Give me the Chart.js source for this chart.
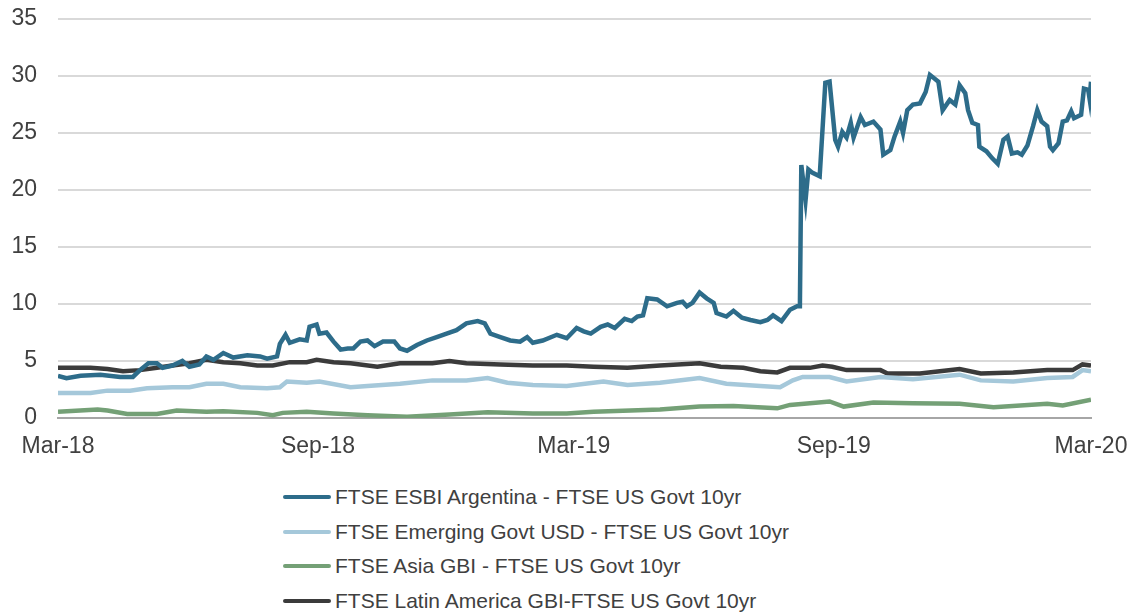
<!DOCTYPE html>
<html>
<head>
<meta charset="utf-8">
<script src="https://cdn.jsdelivr.net/npm/chart.js@4"></script>
<style>
  body { margin: 0; background: #ffffff; font-family: "Liberation Sans", Arial, sans-serif; }
  .chartArea { position: relative; width: 1133px; height: 475px; }
  #legend { position: absolute; left: 283px; top: 480px; }
  .legendRow { display: flex; align-items: center; height: 34.5px; font-size: 21px; color: #404040; white-space: nowrap; }
  .legendLine { width: 48px; height: 4px; border-radius: 2px; margin-right: 4px; }
</style>
</head>
<body>
<div class="chartArea"><canvas id="myChart"></canvas></div>
<div id="legend"></div>
<script>
// Axis ticks (days from 1 Mar 2018) ==>
var tickDays = [0, 184, 365, 549, 731];
var tickLabels = ['Mar-18', 'Sep-18', 'Mar-19', 'Sep-19', 'Mar-20'];

// Series names ==>
var seriesNames = [
    'FTSE ESBI Argentina - FTSE US Govt 10yr',
    'FTSE Emerging Govt USD - FTSE US Govt 10yr',
    'FTSE Asia GBI - FTSE US Govt 10yr',
    'FTSE Latin America GBI-FTSE US Govt 10yr'
];

// Argentina spread ==>
var argDays = [0, 6, 16, 30, 44, 53, 58, 64, 70, 74, 81, 88, 93, 100, 105, 110, 117, 124, 134, 143, 148, 155, 157, 161, 164, 171, 176, 178, 183, 185, 190, 195, 200, 205, 209, 214, 219, 224, 230, 238, 242, 247, 254, 261, 268, 275, 282, 289, 297, 302, 306, 313, 320, 327, 332, 336, 343, 353, 360, 367, 372, 377, 384, 389, 394, 401, 406, 410, 414, 417, 424, 431, 438, 442, 445, 449, 454, 459, 464, 466, 473, 478, 484, 490, 497, 502, 506, 512, 518, 523, 525, 526, 529, 531, 534, 539, 543, 546, 550, 552, 555, 558, 561, 563, 568, 571, 577, 582, 584, 589, 592, 596, 598, 601, 605, 610, 614, 617, 623, 626, 631, 635, 638, 642, 644, 647, 651, 652, 657, 661, 665, 669, 672, 675, 679, 682, 686, 690, 693, 696, 700, 702, 704, 708, 711, 714, 717, 719, 724, 726, 729, 730, 731];
var argValues = [3.7, 3.5, 3.7, 3.8, 3.6, 3.6, 4.2, 4.8, 4.8, 4.4, 4.6, 5.0, 4.5, 4.7, 5.4, 5.1, 5.7, 5.3, 5.5, 5.4, 5.2, 5.4, 6.5, 7.3, 6.6, 6.9, 6.8, 8.0, 8.2, 7.4, 7.5, 6.7, 6.0, 6.1, 6.1, 6.7, 6.8, 6.3, 6.7, 6.7, 6.1, 5.9, 6.4, 6.8, 7.1, 7.4, 7.7, 8.3, 8.5, 8.3, 7.4, 7.1, 6.8, 6.7, 7.1, 6.6, 6.8, 7.3, 7.0, 7.9, 7.6, 7.4, 8.0, 8.2, 7.9, 8.7, 8.5, 8.9, 9.0, 10.5, 10.4, 9.8, 10.1, 10.2, 9.8, 10.1, 11.0, 10.5, 10.1, 9.2, 8.9, 9.4, 8.8, 8.6, 8.4, 8.6, 9.0, 8.5, 9.5, 9.8, 9.8, 22.2, 19.1, 21.8, 21.5, 21.2, 29.4, 29.5, 24.4, 23.8, 25.1, 24.6, 25.9, 24.6, 26.4, 25.7, 26.0, 25.3, 23.1, 23.5, 24.7, 26.0, 25.0, 27.0, 27.5, 27.6, 28.6, 30.1, 29.5, 27.0, 27.9, 27.5, 29.2, 28.5, 27.0, 25.9, 25.7, 23.8, 23.4, 22.8, 22.3, 24.4, 24.7, 23.2, 23.3, 23.1, 23.9, 25.6, 27.0, 26.0, 25.6, 23.8, 23.5, 24.1, 26.0, 26.1, 26.9, 26.3, 26.6, 28.9, 28.8, 28.0, 29.5];

// Emerging Govt USD ==>
var emDays = [0, 23, 35, 51, 63, 81, 93, 105, 117, 129, 148, 157, 162, 176, 185, 207, 219, 242, 265, 289, 304, 318, 336, 360, 386, 403, 426, 454, 473, 497, 511, 520, 527, 546, 558, 582, 605, 638, 653, 676, 700, 718, 725, 731];
var emValues = [2.2, 2.2, 2.4, 2.4, 2.6, 2.7, 2.7, 3.0, 3.0, 2.7, 2.6, 2.7, 3.2, 3.1, 3.2, 2.7, 2.8, 3.0, 3.3, 3.3, 3.5, 3.1, 2.9, 2.8, 3.2, 2.9, 3.1, 3.5, 3.0, 2.8, 2.7, 3.3, 3.6, 3.6, 3.2, 3.6, 3.4, 3.8, 3.3, 3.2, 3.5, 3.6, 4.2, 4.1];

// Asia GBI ==>
var asiaDays = [0, 28, 35, 49, 70, 84, 105, 117, 141, 152, 159, 176, 195, 219, 247, 277, 304, 336, 360, 379, 426, 454, 478, 509, 518, 546, 556, 577, 605, 638, 662, 700, 711, 731];
var asiaValues = [0.55, 0.75, 0.65, 0.35, 0.35, 0.65, 0.55, 0.6, 0.45, 0.25, 0.45, 0.55, 0.4, 0.25, 0.1, 0.3, 0.5, 0.4, 0.4, 0.55, 0.75, 1.0, 1.05, 0.85, 1.15, 1.45, 1.0, 1.35, 1.3, 1.25, 0.95, 1.25, 1.1, 1.6];

// Latin America GBI ==>
var latamDays = [0, 23, 35, 46, 58, 70, 81, 93, 105, 117, 129, 141, 152, 164, 176, 183, 195, 207, 226, 242, 265, 277, 289, 313, 336, 360, 379, 403, 426, 454, 469, 485, 497, 509, 518, 532, 541, 548, 558, 582, 587, 610, 624, 638, 653, 676, 700, 718, 725, 731];
var latamValues = [4.4, 4.4, 4.3, 4.1, 4.2, 4.4, 4.6, 4.8, 5.1, 4.9, 4.8, 4.6, 4.6, 4.9, 4.9, 5.1, 4.9, 4.8, 4.5, 4.8, 4.8, 5.0, 4.8, 4.7, 4.6, 4.6, 4.5, 4.4, 4.6, 4.8, 4.5, 4.4, 4.1, 4.0, 4.4, 4.4, 4.6, 4.5, 4.2, 4.2, 3.9, 3.9, 4.1, 4.3, 3.9, 4.0, 4.2, 4.2, 4.7, 4.6];

var colors = ['#2d6c8a', '#a5c8da', '#74a076', '#3b3b3b'];

// Build {x, y} points ==>
function toPoints(days, values) {
    return days.map((d, i) => ({ x: d, y: values[i] }));
}
var allDays = [argDays, emDays, asiaDays, latamDays];
var allValues = [argValues, emValues, asiaValues, latamValues];

var datasets = seriesNames.map((name, i) => ({
    label: name,
    data: toPoints(allDays[i], allValues[i]),
    borderColor: colors[i],
    backgroundColor: colors[i],
    borderWidth: 4.5,
    pointRadius: 0,
    tension: 0,
    fill: false
}));

// Creat chart ==>
Chart.defaults.font.family = '"Liberation Sans", Arial, sans-serif';
Chart.defaults.font.size = 23;
Chart.defaults.color = '#404040';
const ctx = document.getElementById('myChart');
var chart = new Chart(ctx, {
    type: 'line',
    data: { datasets: datasets },
    options: {
        animation: false,
        responsive: true,
        maintainAspectRatio: false,
        layout: { padding: { top: 19, right: 42, left: 0, bottom: 0 } },
        plugins: {
            legend: { display: false },
            tooltip: { enabled: false }
        },
        scales: {
            x: {
                type: 'linear',
                min: 0,
                max: 731,
                grid: { display: false, drawTicks: false },
                border: { display: true, color: '#a6a6a6', width: 2 },
                afterBuildTicks: (scale) => { scale.ticks = tickDays.map(v => ({ value: v })); },
                afterFit: (scale) => {
                    scale.height = 57;
                    scale.paddingLeft = 0;
                    scale.paddingRight = 0;
                },
                ticks: {
                    padding: 15,
                    maxRotation: 0,
                    autoSkip: false,
                    callback: (value, index) => tickLabels[index]
                }
            },
            y: {
                min: 0,
                max: 35,
                grid: { color: '#d9d9d9', lineWidth: 2, drawTicks: false },
                border: { display: false },
                afterFit: (scale) => {
                    scale.width = 58;
                    scale.paddingTop = 0;
                    scale.paddingBottom = 0;
                },
                ticks: { stepSize: 5, padding: 21 }
            }
        }
    }
});

// Legend below the chart ==>
var legend = document.getElementById('legend');
chart.data.datasets.forEach((ds) => {
    var row = document.createElement('div');
    row.className = 'legendRow';
    var line = document.createElement('span');
    line.className = 'legendLine';
    line.style.backgroundColor = ds.borderColor;
    var text = document.createElement('span');
    text.textContent = ds.label;
    row.appendChild(line);
    row.appendChild(text);
    legend.appendChild(row);
});
</script>
</body>
</html>
